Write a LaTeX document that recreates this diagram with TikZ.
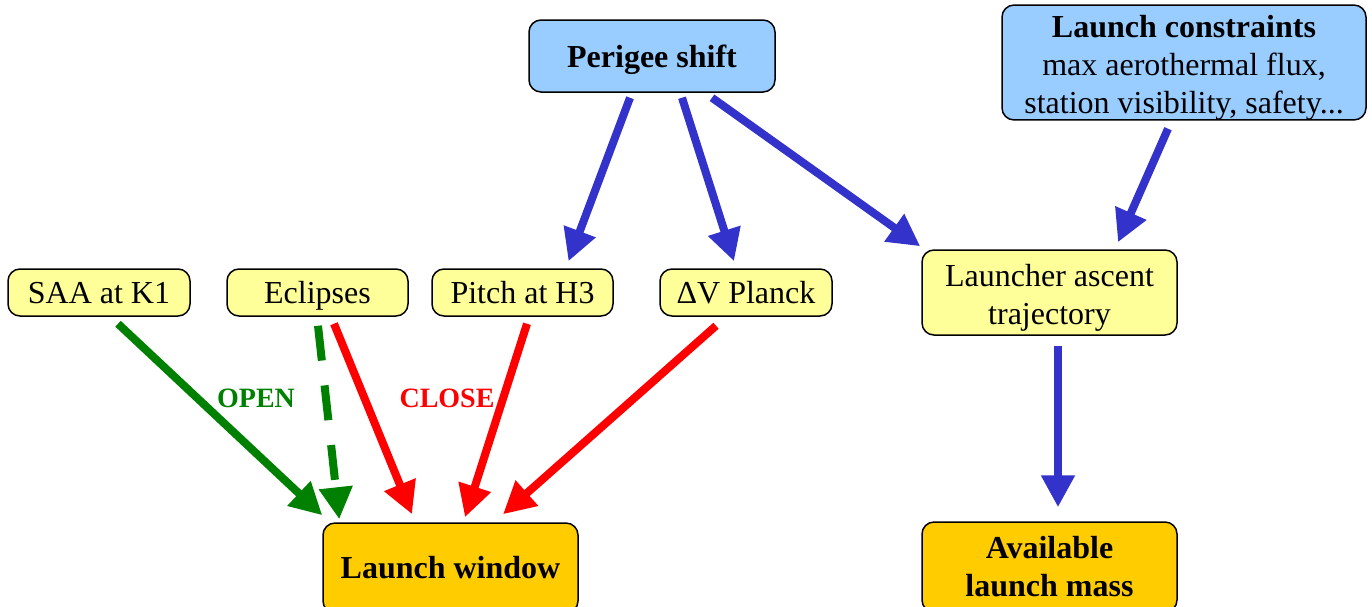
\documentclass[tikz,border=0pt]{standalone}
\usepackage{fontspec}
\setmainfont{Liberation Serif}
\usetikzlibrary{arrows.meta}
\usetikzlibrary{calc}

\definecolor{boxblue}{RGB}{153,204,255}
\definecolor{boxyellow}{RGB}{255,255,153}
\definecolor{boxorange}{RGB}{255,204,0}
\definecolor{flowblue}{RGB}{51,51,204}
\definecolor{flowgreen}{RGB}{0,128,0}
\definecolor{flowred}{RGB}{255,0,0}

\tikzset{
  box/.style={draw=black, line width=1.5pt, rounded corners=12pt, align=center,
    inner sep=0pt, font=\fontsize{32}{38}\selectfont},
  oneline/.style={text height=25pt, text depth=3pt},
  topbox/.style={box, fill=boxblue},
  inbox/.style={box, fill=boxyellow},
  outbox/.style={box, fill=boxorange, font=\bfseries\fontsize{32}{38}\selectfont},
  flow/.style={line width=8pt, -{Triangle[length=32pt,width=32pt]}},
  tag/.style={font=\bfseries\fontsize{28}{32}\selectfont}
}
% extra room above the first line of a stacked label
\newcommand{\toproom}{\rule{0pt}{32pt}}

\begin{document}
\begin{tikzpicture}[x=1pt,y=-1pt]
            \useasboundingbox (0,0) rectangle (1372,606);
            % top row
            \node [topbox, oneline, minimum width=246pt, minimum height=72pt] (perigee) at (652,56){\textbf{Perigee shift}};
            \node [topbox, minimum width=364pt, minimum height=109pt] (constraints) at (1184,62.5){\toproom\textbf{Launch constraints}\\max aerothermal flux,\\station visibility, safety...};
            % middle row
            \node [inbox, oneline, minimum width=182pt, minimum height=47pt] (saa) at (99,292.5){SAA at K1};
            \node [inbox, oneline, minimum width=181pt, minimum height=47pt] (eclipses) at (317.5,292.5){Eclipses};
            \node [inbox, oneline, minimum width=181pt, minimum height=47pt] (pitch) at (522.5,292.5){Pitch at H3};
            \node [inbox, oneline, minimum width=172pt, minimum height=47pt] (dv) at (746,292.5){ΔV Planck};
            \node [inbox, minimum width=255pt, minimum height=85pt] (ascent) at (1049.5,292.5){\toproom Launcher ascent\\trajectory};
            % bottom row
            \node [outbox, minimum width=255pt, minimum height=90pt] (window) at (450.5,568){Launch window};
            \node [outbox, minimum width=255pt, minimum height=90pt] (mass) at (1049.5,567){Available\\launch mass};
            % blue links
            \draw [flow, flowblue] ($(perigee.south)+(-22,5)$) -- ($(pitch.north)+(46,-7)$);
            \draw [flow, flowblue] ($(perigee.south)+(30,5)$) -- ($(dv.north)+(-12,-7)$);
            \draw [flow, flowblue] ($(perigee.south)+(60,5)$) -- ($(ascent.north west)+(-1,-3)$);
            \draw [flow, flowblue] ($(constraints.south)+(-16,8)$) -- ($(ascent.north)+(68.5,-7)$);
            \draw [flow, flowblue] ($(ascent.south)+(8.5,10)$) -- ($(mass.north)+(8.5,-14)$);
            % green links
            \draw [flow, flowgreen] ($(saa.south)+(19,7)$) -- ($(window.north west)+(0,-7)$);
            \draw [flow, flowgreen, dash pattern=on 35pt off 25pt] ($(eclipses.south)+(0.5,9)$) -- ($(window.north west)+(17,-3)$);
            % red links
            \draw [flow, flowred] ($(eclipses.south)+(16.5,7)$) -- ($(window.north)+(-38.5,-8)$);
            \draw [flow, flowred] ($(pitch.south)+(4.5,7)$) -- ($(window.north)+(14.5,-5)$);
            \draw [flow, flowred] ($(dv.south)+(-30,9)$) -- ($(window.north)+(52.5,-8)$);
            \node [tag, text=flowgreen] (open) at (256,398){OPEN};
            \node [tag, text=flowred] (close) at (447,398){CLOSE};
\end{tikzpicture}
\end{document}
